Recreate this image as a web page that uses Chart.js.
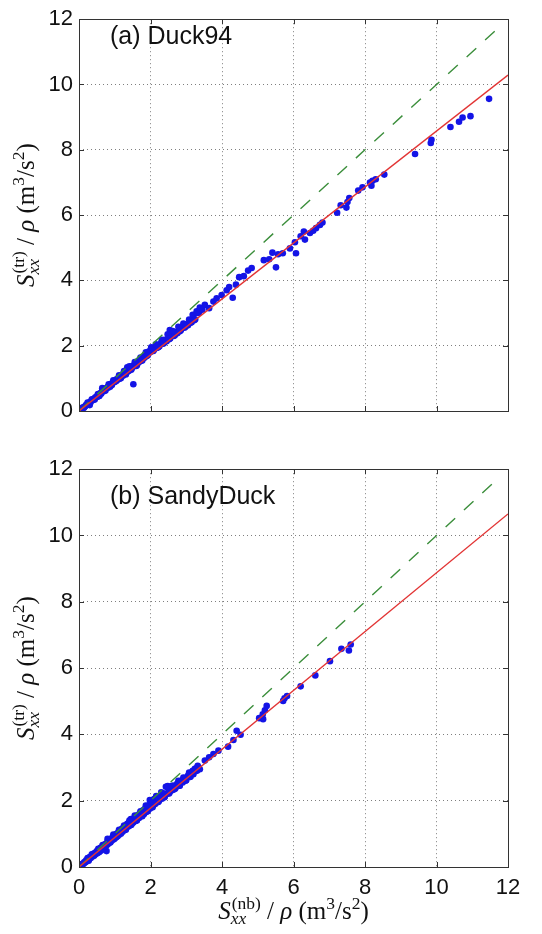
<!DOCTYPE html>
<html>
<head>
<meta charset="utf-8">
<script src="https://cdn.jsdelivr.net/npm/chart.js@4.4.0/dist/chart.umd.min.js"></script>
<style>
  html, body { margin: 0; padding: 0; background: #fff; width: 542px; height: 934px; overflow: hidden; }
  canvas { position: absolute; left: 0; }
  #chart-a { top: 0; }
  #chart-b { top: 450px; }
</style>
</head>
<body>
<canvas id="chart-a" width="542" height="450"></canvas>
<canvas id="chart-b" width="542" height="484"></canvas>
<script>
/* ---------- data ---------- */
const axisTicks = [0, 2, 4, 6, 8, 10, 12];

// (a) Duck94 scatter
const duckX = [
  0.02, 0.05, 0.08, 0.10, 0.12, 0.15, 0.18, 0.20, 0.22, 0.25, 0.28, 0.30, 0.30, 0.32, 0.35, 0.38, 0.40, 0.42, 0.45, 0.48,
  0.50, 0.52, 0.55, 0.58, 0.60, 0.62, 0.65, 0.65, 0.68, 0.70, 0.72, 0.75, 0.78, 0.80, 0.82, 0.85, 0.88, 0.90, 0.92, 0.95,
  0.98, 1.00, 1.02, 1.05, 1.08, 1.10, 1.13, 1.15, 1.18, 1.20, 1.23, 1.25, 1.28, 1.30, 1.33, 1.35, 1.35, 1.38, 1.40, 1.43,
  1.45, 1.48, 1.50, 1.52, 1.55, 1.58, 1.60, 1.60, 1.63, 1.65, 1.68, 1.70, 1.73, 1.75, 1.78, 1.80, 1.83, 1.85, 1.88, 1.90,
  1.93, 1.95, 1.98, 2.00, 2.03, 2.06, 2.10, 2.13, 2.17, 2.20, 2.25, 2.30, 2.35, 2.40, 2.45, 2.50, 2.54, 2.55, 2.60, 2.65,
  2.70, 2.75, 2.80, 2.85, 2.90, 2.95, 3.00, 3.05, 3.10, 3.15, 3.20, 3.25, 3.29, 3.38, 3.52, 3.64, 3.76, 3.85, 3.99, 4.13,
  4.20, 4.30, 4.39, 4.48, 4.61, 4.73, 4.83, 5.17, 5.32, 5.41, 5.51, 5.57, 5.70, 5.90, 6.04, 6.07, 6.20, 6.29, 6.32, 6.46,
  6.55, 6.63, 6.74, 6.81, 7.22, 7.32, 7.48, 7.51, 7.56, 7.81, 7.93, 8.14, 8.18, 8.21, 8.30, 8.54, 9.40, 9.84, 9.86, 10.39,
  10.63, 10.73, 10.95, 11.47, 1.52,
  0.06, 0.14, 0.24, 0.27, 0.36, 0.44, 0.53, 0.57, 0.66, 0.74, 0.83, 0.87, 0.96, 1.04, 1.12, 1.17, 1.26, 1.31, 1.41, 1.46,
  1.56, 1.62, 1.72, 1.77, 1.87, 1.92, 2.02, 2.08, 2.15, 2.22, 2.32, 2.38, 2.48, 2.52, 2.62, 2.68, 2.78, 2.82, 2.92, 2.98,
  3.08, 3.12, 3.18, 3.22, 3.30, 3.35, 3.45
];
const duckY = [
  0.02, 0.04, 0.07, 0.08, 0.11, 0.13, 0.15, 0.19, 0.18, 0.23, 0.24, 0.27, 0.18, 0.26, 0.32, 0.33, 0.36, 0.35, 0.41, 0.42,
  0.45, 0.44, 0.50, 0.51, 0.55, 0.53, 0.60, 0.70, 0.60, 0.64, 0.62, 0.69, 0.70, 0.73, 0.72, 0.78, 0.80, 0.83, 0.80, 0.88,
  0.88, 0.92, 0.90, 0.97, 0.96, 1.01, 0.99, 1.06, 1.05, 1.10, 1.08, 1.16, 1.14, 1.20, 1.18, 1.25, 1.34, 1.22, 1.30, 1.27,
  1.35, 1.31, 1.38, 1.36, 1.42, 1.40, 1.47, 1.38, 1.45, 1.52, 1.50, 1.56, 1.53, 1.62, 1.60, 1.65, 1.63, 1.72, 1.68, 1.76,
  1.74, 1.82, 1.79, 1.86, 1.83, 1.90, 1.88, 1.96, 1.93, 2.02, 1.98, 2.10, 2.06, 2.18, 2.14, 2.25, 2.48, 2.22, 2.33, 2.30,
  2.42, 2.38, 2.50, 2.47, 2.58, 2.55, 2.65, 2.63, 2.75, 2.72, 2.85, 2.80, 3.05, 3.17, 3.25, 3.15, 3.35, 3.45, 3.55, 3.70,
  3.80, 3.47, 3.87, 4.10, 4.13, 4.30, 4.38, 4.62, 4.65, 4.85, 4.40, 4.80, 4.83, 4.98, 5.17, 4.83, 5.35, 5.50, 5.25, 5.45,
  5.52, 5.60, 5.70, 5.77, 6.07, 6.30, 6.23, 6.40, 6.52, 6.75, 6.85, 7.00, 6.90, 7.05, 7.10, 7.24, 7.87, 8.21, 8.31, 8.70,
  8.86, 8.99, 9.03, 9.56, 0.82,
  0.09, 0.10, 0.26, 0.20, 0.36, 0.35, 0.52, 0.46, 0.64, 0.63, 0.82, 0.74, 0.94, 0.92, 1.09, 1.00, 1.22, 1.12, 1.37, 1.26,
  1.50, 1.40, 1.64, 1.55, 1.80, 1.70, 1.95, 1.84, 2.04, 1.95, 2.18, 2.08, 2.35, 2.20, 2.45, 2.32, 2.58, 2.44, 2.68, 2.58,
  2.80, 2.70, 2.95, 2.78, 3.00, 3.00, 3.10
];
const duckFitX = [0, 12];
const duckFitY = [0, 10.29];

// (b) SandyDuck scatter
const sandyX = [
  0.02, 0.04, 0.07, 0.10, 0.12, 0.15, 0.18, 0.20, 0.22, 0.25, 0.28, 0.30, 0.33, 0.35, 0.38, 0.40, 0.42, 0.45, 0.48, 0.50,
  0.52, 0.55, 0.58, 0.60, 0.62, 0.65, 0.68, 0.70, 0.72, 0.75, 0.77, 0.78, 0.80, 0.82, 0.85, 0.88, 0.90, 0.92, 0.95, 0.98,
  1.00, 1.02, 1.05, 1.08, 1.10, 1.12, 1.15, 1.18, 1.20, 1.22, 1.25, 1.28, 1.30, 1.32, 1.35, 1.38, 1.40, 1.42, 1.45, 1.48,
  1.50, 1.52, 1.55, 1.58, 1.60, 1.62, 1.65, 1.68, 1.70, 1.72, 1.75, 1.78, 1.80, 1.82, 1.85, 1.88, 1.90, 1.92, 1.95, 1.98,
  2.00, 2.02, 2.05, 2.08, 2.10, 2.13, 2.15, 2.18, 2.20, 2.24, 2.28, 2.32, 2.36, 2.40, 2.43, 2.46, 2.50, 2.54, 2.58, 2.62,
  2.66, 2.70, 2.75, 2.80, 2.85, 2.90, 2.95, 3.00, 3.05, 3.10, 3.15, 3.20, 3.24, 3.25, 3.30, 3.35, 3.38, 3.52, 3.64, 3.76,
  3.90, 4.17, 4.32, 4.41, 4.52, 5.04, 5.14, 5.15, 5.20, 5.25, 5.71, 5.75, 5.82, 6.20, 6.61, 7.02, 7.34, 7.55, 7.60,
  0.06, 0.14, 0.24, 0.27, 0.36, 0.44, 0.54, 0.57, 0.66, 0.74, 0.80, 0.87, 0.96, 1.04, 1.12, 1.17, 1.26, 1.31, 1.41, 1.46,
  1.56, 1.62, 1.72, 1.77, 1.87, 1.92, 1.98, 2.06, 2.16, 2.22, 2.30, 2.38, 2.48, 2.52, 2.60, 2.68, 2.78, 2.82, 2.92, 2.98,
  3.08, 3.12, 3.18, 3.28, 3.32
];
const sandyY = [
  0.02, 0.05, 0.06, 0.10, 0.09, 0.15, 0.14, 0.20, 0.17, 0.24, 0.23, 0.30, 0.27, 0.34, 0.32, 0.40, 0.34, 0.43, 0.40, 0.48,
  0.42, 0.52, 0.48, 0.58, 0.50, 0.60, 0.56, 0.67, 0.60, 0.70, 0.48, 0.66, 0.78, 0.70, 0.80, 0.75, 0.86, 0.80, 0.90, 0.84,
  0.96, 0.88, 1.00, 0.93, 1.05, 0.97, 1.10, 1.03, 1.15, 1.06, 1.20, 1.12, 1.25, 1.16, 1.30, 1.22, 1.34, 1.25, 1.45, 1.31,
  1.42, 1.34, 1.48, 1.39, 1.52, 1.43, 1.57, 1.48, 1.62, 1.52, 1.66, 1.57, 1.72, 1.60, 1.76, 1.66, 1.82, 1.70, 1.86, 1.76,
  2.00, 1.82, 1.95, 1.86, 2.05, 1.90, 2.08, 1.95, 2.12, 2.00, 2.15, 2.06, 2.22, 2.12, 2.42, 2.20, 2.35, 2.26, 2.40, 2.32,
  2.46, 2.38, 2.52, 2.45, 2.60, 2.55, 2.68, 2.62, 2.76, 2.72, 2.84, 2.80, 2.96, 2.92, 2.90, 3.00, 2.95, 3.21, 3.31, 3.41,
  3.51, 3.63, 3.83, 4.11, 3.99, 4.49, 4.61, 4.46, 4.73, 4.86, 5.01, 5.09, 5.16, 5.45, 5.78, 6.21, 6.58, 6.53, 6.71,
  0.08, 0.11, 0.27, 0.19, 0.38, 0.37, 0.55, 0.45, 0.66, 0.62, 0.85, 0.74, 0.98, 0.90, 1.12, 1.00, 1.25, 1.12, 1.40, 1.27,
  1.55, 1.40, 1.68, 1.53, 1.85, 1.68, 2.02, 1.80, 2.14, 1.96, 2.25, 2.10, 2.44, 2.22, 2.45, 2.35, 2.60, 2.45, 2.70, 2.60,
  2.85, 2.72, 2.90, 2.98, 3.05
];
const sandyFitX = [0, 12];
const sandyFitY = [0, 10.65];

// one-to-one reference line
const equalX = [0, 11.65];
const equalY = [0, 11.65];

/* ---------- style ---------- */
const SANS = '"Liberation Sans", Arial, sans-serif';
const SERIF = '"Liberation Serif", "DejaVu Serif", serif';
const INK = '#111';
const PLOT = { left: 79, right: 508 };
const MATH_SIZE = 25;

function pairs(xs, ys) { return xs.map((x, i) => ({ x, y: ys[i] })); }

/* ---------- math label ---------- */
function mathTokens(sup) {
  return [
    { t: 'S', it: true },
    { sup, sub: 'xx' },
    { t: ' / ' },
    { t: 'ρ', it: true },
    { t: ' (m' },
    { t: '3', up: true },
    { t: '/s' },
    { t: '2', up: true },
    { t: ')' },
  ];
}

function drawMath(ctx, tokens, F, x, y, vertical) {
  const small = F * 0.7;
  const font = (size, it) => (it ? 'italic ' : '') + size + 'px ' + SERIF;
  const widths = tokens.map(tk => {
    if (tk.sub !== undefined) {
      ctx.font = font(small, false);
      const a = ctx.measureText(tk.sup).width;
      ctx.font = font(small, true);
      const b = ctx.measureText(tk.sub).width;
      return Math.max(a, b) + 1;
    }
    ctx.font = font(tk.up ? small : F, tk.it);
    return ctx.measureText(tk.t).width;
  });
  const total = widths.reduce((a, b) => a + b, 0);
  ctx.save();
  ctx.translate(x, y);
  if (vertical) ctx.rotate(-Math.PI / 2);
  ctx.fillStyle = INK;
  ctx.textBaseline = 'alphabetic';
  ctx.textAlign = 'left';
  let cx = -total / 2;
  tokens.forEach((tk, i) => {
    if (tk.sub !== undefined) {
      ctx.font = font(small, false);
      ctx.fillText(tk.sup, cx + 1, -F * 0.42);
      ctx.font = font(small, true);
      ctx.fillText(tk.sub, cx, F * 0.2);
    } else {
      ctx.font = font(tk.up ? small : F, tk.it);
      ctx.fillText(tk.t, cx, tk.up ? -F * 0.4 : 0);
    }
    cx += widths[i];
  });
  ctx.restore();
}

/* ---------- frame plugin: box, inward ticks, labels ---------- */
const framePlugin = {
  id: 'frame',
  afterDraw(chart, args, opts) {
    const { ctx, chartArea: a, scales } = chart;
    ctx.save();
    ctx.strokeStyle = '#333';
    ctx.lineWidth = 1;
    ctx.beginPath();
    axisTicks.forEach(v => {
      const px = Math.round(scales.x.getPixelForValue(v)) + 0.5;
      ctx.moveTo(px, a.bottom); ctx.lineTo(px, a.bottom - 5);
      ctx.moveTo(px, a.top); ctx.lineTo(px, a.top + 5);
      const py = Math.round(scales.y.getPixelForValue(v)) + 0.5;
      ctx.moveTo(a.left, py); ctx.lineTo(a.left + 5, py);
      ctx.moveTo(a.right, py); ctx.lineTo(a.right - 5, py);
    });
    ctx.stroke();
    ctx.strokeRect(Math.round(a.left) + 0.5, Math.round(a.top) + 0.5,
      Math.round(a.right - a.left), Math.round(a.bottom - a.top));

    ctx.fillStyle = INK;
    ctx.font = '25px ' + SANS;
    ctx.textBaseline = 'alphabetic';
    ctx.textAlign = 'left';
    ctx.fillText(opts.label, 110, opts.labelY);
    ctx.restore();

    drawMath(ctx, mathTokens('(tr)'), MATH_SIZE, 34, (a.top + a.bottom) / 2, true);
    if (opts.xTitleY) {
      drawMath(ctx, mathTokens('(nb)'), MATH_SIZE, (a.left + a.right) / 2, opts.xTitleY, false);
    }
  },
};

/* ---------- panel builder ---------- */
function renderPanel(id, xs, ys, fitX, fitY, cfg) {
  const canvas = document.getElementById(id);
  const tickFont = { family: SANS, size: 22 };
  return new Chart(canvas.getContext('2d'), {
    type: 'scatter',
    data: {
      datasets: [
        {
          data: pairs(fitX, fitY),
          showLine: true,
          borderColor: '#e23434',
          borderWidth: 1.4,
          pointRadius: 0,
          order: 0,
        },
        {
          data: pairs(equalX, equalY),
          showLine: true,
          borderColor: '#3b8e3b',
          borderWidth: 1.4,
          borderDash: [13, 12],
          pointRadius: 0,
          order: 1,
        },
        {
          data: pairs(xs, ys),
          backgroundColor: '#1414e6',
          borderWidth: 0,
          pointRadius: 3.3,
          pointHoverRadius: 3.3,
          order: 2,
        },
      ],
    },
    options: {
      responsive: false,
      animation: false,
      devicePixelRatio: 1,
      events: [],
      layout: { padding: { left: 0, right: 542 - PLOT.right, top: cfg.top, bottom: 0 } },
      plugins: {
        legend: { display: false },
        tooltip: { enabled: false },
        frame: { label: cfg.label, labelY: cfg.labelY, xTitleY: cfg.xTitleY },
      },
      scales: {
        x: {
          type: 'linear', min: 0, max: 12,
          afterBuildTicks: s => { s.ticks = axisTicks.map(v => ({ value: v })); },
          ticks: { display: cfg.showX, padding: 8, font: tickFont, color: INK, autoSkip: false, maxRotation: 0 },
          grid: { color: 'rgba(0,0,0,0.5)', lineWidth: 1, drawTicks: false },
          border: { display: false, dash: [1, 3] },
          afterFit: s => { s.height = cfg.xHeight; },
        },
        y: {
          type: 'linear', min: 0, max: 12,
          afterBuildTicks: s => { s.ticks = axisTicks.map(v => ({ value: v })); },
          ticks: { padding: 6, font: tickFont, color: INK, autoSkip: false },
          grid: { color: 'rgba(0,0,0,0.5)', lineWidth: 1, drawTicks: false },
          border: { display: false, dash: [1, 3] },
          afterFit: s => { s.width = PLOT.left; },
        },
      },
    },
    plugins: [framePlugin],
  });
}

renderPanel('chart-a', duckX, duckY, duckFitX, duckFitY, {
  top: 12, xHeight: 450 - 411, showX: false, label: '(a) Duck94', labelY: 43.5,
});
renderPanel('chart-b', sandyX, sandyY, sandyFitX, sandyFitY, {
  top: 17, xHeight: 484 - 417, showX: true, label: '(b) SandyDuck', labelY: 53.5, xTitleY: 469,
});
</script>
</body>
</html>
